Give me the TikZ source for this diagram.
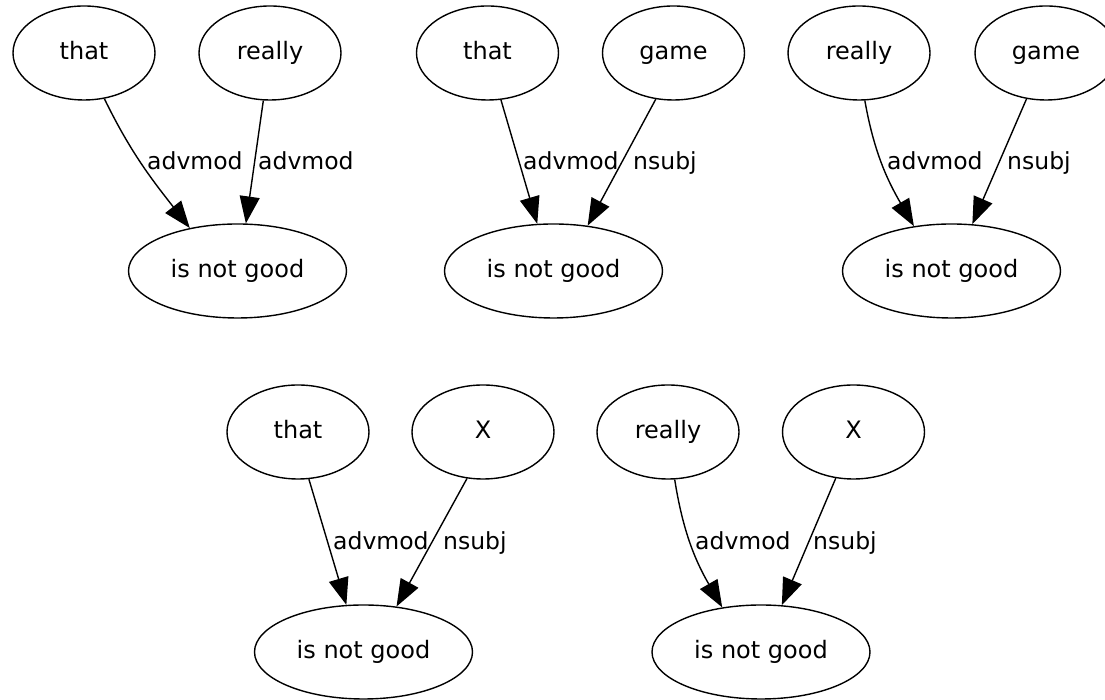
\documentclass[tikz,border=0pt]{standalone}
\usepackage{fontspec}
\setmainfont{DejaVu Sans}
\usetikzlibrary{arrows.meta,shapes.geometric}

\tikzset{
  word/.style={draw, ellipse, line width=1.4pt, inner sep=0pt,
    minimum width=142pt, minimum height=94pt,
    font=\fontsize{24}{28}\selectfont, text height=18pt, text depth=5pt},
  phrase/.style={word, minimum width=218pt},
  dep/.style={line width=1.4pt, -{Triangle[length=27pt,width=20pt]}},
  deplabel/.style={anchor=base west, inner sep=0pt,
    font=\fontsize{23.5}{28}\selectfont}
}

\begin{document}
\begin{tikzpicture}[x=1pt,y=1pt]
  \useasboundingbox (0,0) rectangle (1105,700);

  % first row
  \node[word] (that1) at (84,647) {that};
  \node[word] (really1) at (270,647) {really};
  \node[phrase] (good1) at (237.5,429) {is not good};

  \node[word] (that2) at (487.5,647) {that};
  \node[word] (game2) at (673.5,647) {game};
  \node[phrase] (good2) at (553.5,429) {is not good};

  \node[word] (really3) at (859,647) {really};
  \node[word] (game3) at (1046,647) {game};
  \node[phrase] (good3) at (951.5,429) {is not good};

  % second row
  \node[word] (that4) at (298,268) {that};
  \node[word] (x4) at (483,268) {X};
  \node[phrase] (good4) at (363.5,48) {is not good};

  \node[word] (really5) at (668,268) {really};
  \node[word] (x5) at (853.5,268) {X};
  \node[phrase] (good5) at (761,48) {is not good};

  \draw[dep] (that1.-66) to[out=-64,in=128] (good1.138);
  \draw[dep] (really1.-98) -- (good1.80);
  \node[deplabel] (l1a) at (147,530) {advmod};
  \node[deplabel] (l1b) at (258,530) {advmod};

  \draw[dep] (that2.-74) -- (good2.109);
  \draw[dep] (game2.-111) -- (good2.53);
  \node[deplabel] (l2a) at (523,530) {advmod};
  \node[deplabel] (l2b) at (633,530) {nsubj};

  \draw[dep] (really3.-83) to[out=-80,in=120] (good3.130);
  \draw[dep] (game3.-113) -- (good3.66);
  \node[deplabel] (l3a) at (887,530) {advmod};
  \node[deplabel] (l3b) at (1007,530) {nsubj};

  \draw[dep] (that4.-77) -- (good4.110);
  \draw[dep] (x4.-109) -- (good4.54);
  \node[deplabel] (l4a) at (333,150) {advmod};
  \node[deplabel] (l4b) at (443,150) {nsubj};

  \draw[dep] (really5.-82) to[out=-81,in=120] (good5.131);
  \draw[dep] (x5.-111) -- (good5.66);
  \node[deplabel] (l5a) at (695,150) {advmod};
  \node[deplabel] (l5b) at (813,150) {nsubj};
\end{tikzpicture}
\end{document}
